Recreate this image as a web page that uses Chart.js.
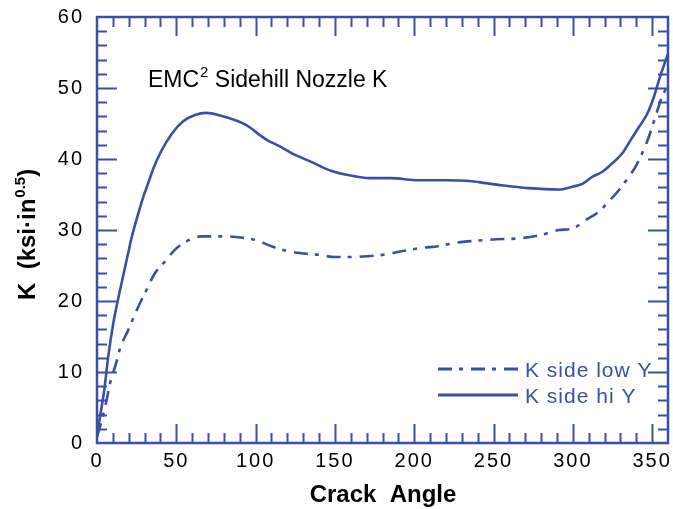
<!DOCTYPE html>
<html>
<head>
<meta charset="utf-8">
<script src="https://cdn.jsdelivr.net/npm/chart.js@4"></script>
<style>
  html, body { margin: 0; padding: 0; background: #fff; }
  #wrap { width: 673px; height: 509px; }
</style>
</head>
<body>
<div id="wrap"><canvas id="chart" width="673" height="509"></canvas></div>
<script>
// values
const hiAngle = [0, 1.9, 4.6, 7.1, 10.3, 14.5, 19.7, 21.8, 26, 29.1, 32.3, 35.4, 40.7, 47, 54.3, 61.7, 69, 76.3, 93, 107, 115, 123, 135, 148, 159, 172, 185, 203, 220, 235, 245, 255, 272, 291, 299.7, 306, 312.3, 318.6, 324.9, 331.2, 336.5, 341.7, 347, 351.2, 354.3, 358.5, 360];
const hiK = [0.9, 3.7, 7.5, 12.2, 16.9, 21.5, 26.8, 28.9, 32.3, 34.6, 36.6, 38.6, 41.2, 43.5, 45.3, 46.2, 46.5, 46.2, 44.9, 42.7, 41.8, 40.8, 39.6, 38.3, 37.7, 37.3, 37.3, 37.0, 37.0, 36.9, 36.6, 36.3, 35.9, 35.7, 36.1, 36.5, 37.5, 38.2, 39.4, 40.8, 42.7, 44.5, 46.4, 48.8, 51.1, 53.9, 54.8];

const lowAngle = [0, 3, 6.1, 8.2, 12.4, 14.5, 19.7, 25, 30.2, 36.5, 43.8, 49, 56.4, 65.8, 80.5, 92, 100, 110, 123, 140, 150, 160, 170, 180, 192, 205, 215, 226, 240, 252, 265, 280, 291.3, 299.7, 308.1, 316.5, 321.7, 329, 335.3, 339.5, 343.7, 347.9, 352.1, 356.3, 359];
const lowK = [0.9, 3.2, 6.1, 8.4, 11.5, 13.3, 15.9, 18.7, 21.1, 23.9, 25.8, 27.2, 28.4, 29.1, 29.1, 28.9, 28.6, 27.7, 26.9, 26.5, 26.2, 26.2, 26.3, 26.5, 27.0, 27.5, 27.7, 28.2, 28.5, 28.7, 28.8, 29.3, 30.0, 30.2, 31.4, 32.6, 33.8, 35.6, 37.5, 38.9, 40.8, 43.1, 46.0, 48.8, 50.0];

const xTicks = [0, 50, 100, 150, 200, 250, 300, 350];
const yTicks = [0, 10, 20, 30, 40, 50, 60];
const seriesNames = ['K side low Y', 'K side hi Y'];

const blue = '#3a4fa6';
const fontFam = "'Liberation Sans', Arial, sans-serif";

function pts(xs, ys) {
    return xs.map((x, i) => ({ x: x, y: ys[i] }));
}

// tick labels in the picture are a bit spread out
const spacing = {
    id: 'spacing',
    beforeDraw(chart) {
        chart.ctx.letterSpacing = '2px';
    }
};

// frame, inward ticks, titles and legend
const decor = {
    id: 'decor',
    afterDatasetsDraw(chart) {
        const ctx = chart.ctx;
        const xs = chart.scales.x, ys = chart.scales.y;
        const { left, right, top, bottom } = chart.chartArea;
        ctx.save();
        ctx.letterSpacing = '0px';
        ctx.strokeStyle = blue;
        ctx.lineWidth = 2.5;
        ctx.strokeRect(left, top, right - left, bottom - top);

        ctx.lineWidth = 2;
        ctx.beginPath();
        for (let v = 10; v < 360; v += 10) {
            const p = Math.round(xs.getPixelForValue(v)) + 0.5;
            const len = v % 50 === 0 ? 19 : 10;
            ctx.moveTo(p, bottom); ctx.lineTo(p, bottom - len);
            ctx.moveTo(p, top); ctx.lineTo(p, top + len);
        }
        for (let v = 2; v < 60; v += 2) {
            const p = Math.round(ys.getPixelForValue(v)) + 0.5;
            const len = v % 10 === 0 ? 20 : 10;
            ctx.moveTo(left, p); ctx.lineTo(left + len, p);
            ctx.moveTo(right, p); ctx.lineTo(right - len, p);
        }
        ctx.stroke();

        // chart note
        ctx.fillStyle = '#000';
        ctx.textBaseline = 'alphabetic';
        ctx.textAlign = 'left';
        ctx.font = '23px ' + fontFam;
        let x = 148;
        ctx.fillText('EMC', x, 87);
        x += ctx.measureText('EMC').width;
        ctx.font = '15px ' + fontFam;
        ctx.fillText('2', x + 1, 77);
        x += ctx.measureText('2').width + 1;
        ctx.font = '23px ' + fontFam;
        ctx.fillText(' Sidehill Nozzle K', x, 87);

        // x title
        ctx.font = 'bold 24px ' + fontFam;
        ctx.textAlign = 'center';
        ctx.fillText('Crack  Angle', 383, 502);

        // y title, rotated
        ctx.save();
        ctx.translate(35, 300);
        ctx.rotate(-Math.PI / 2);
        ctx.textAlign = 'left';
        let t = 0;
        ctx.font = 'bold 24px ' + fontFam;
        ctx.fillText('K  (ksi\u00b7in', t, 0);
        t += ctx.measureText('K  (ksi\u00b7in').width;
        ctx.font = 'bold 15px ' + fontFam;
        ctx.fillText('0.5', t + 1, -10);
        t += ctx.measureText('0.5').width + 1;
        ctx.font = 'bold 24px ' + fontFam;
        ctx.fillText(')', t, 0);
        ctx.restore();

        // legend
        const rows = [369, 395];
        chart.data.datasets.forEach((ds, i) => {
            ctx.strokeStyle = ds.borderColor;
            ctx.lineWidth = 3;
            ctx.setLineDash(ds.borderDash || []);
            ctx.beginPath();
            ctx.moveTo(438, rows[i]);
            ctx.lineTo(518, rows[i]);
            ctx.stroke();
            ctx.setLineDash([]);
            ctx.fillStyle = blue;
            ctx.font = '21px ' + fontFam;
            ctx.letterSpacing = '1px';
            ctx.textAlign = 'left';
            ctx.fillText(ds.label, 525, rows[i] + 8);
            ctx.letterSpacing = '0px';
        });
        ctx.restore();
    }
};

new Chart(document.getElementById('chart').getContext('2d'), {
    type: 'line',
    data: {
        datasets: [{
            label: seriesNames[0],
            data: pts(lowAngle, lowK),
            borderColor: blue,
            borderWidth: 2.6,
            borderDash: [14, 7, 4, 8],
            pointRadius: 0,
            cubicInterpolationMode: 'monotone',
            fill: false
        }, {
            label: seriesNames[1],
            data: pts(hiAngle, hiK),
            borderColor: blue,
            borderWidth: 2.6,
            pointRadius: 0,
            cubicInterpolationMode: 'monotone',
            fill: false
        }]
    },
    options: {
        responsive: false,
        animation: false,
        layout: { padding: { left: 0, right: 5, top: 17, bottom: 0 } },
        plugins: { legend: { display: false }, tooltip: { enabled: false } },
        scales: {
            x: {
                type: 'linear',
                min: 0,
                max: 360,
                grid: { display: false, drawTicks: false },
                border: { display: false },
                afterBuildTicks: s => { s.ticks = xTicks.map(v => ({ value: v })); },
                afterFit: s => { s.height = 66; s.paddingLeft = 0; s.paddingRight = 0; },
                ticks: { color: '#000', padding: 6, maxRotation: 0, font: { family: fontFam, size: 20 } }
            },
            y: {
                min: 0,
                max: 60,
                grid: { display: false, drawTicks: false },
                border: { display: false },
                afterBuildTicks: s => { s.ticks = yTicks.map(v => ({ value: v })); },
                afterFit: s => { s.width = 97; s.paddingTop = 0; s.paddingBottom = 0; },
                ticks: { color: '#000', padding: 13, font: { family: fontFam, size: 20 } }
            }
        }
    },
    plugins: [spacing, decor]
});
</script>
</body>
</html>
